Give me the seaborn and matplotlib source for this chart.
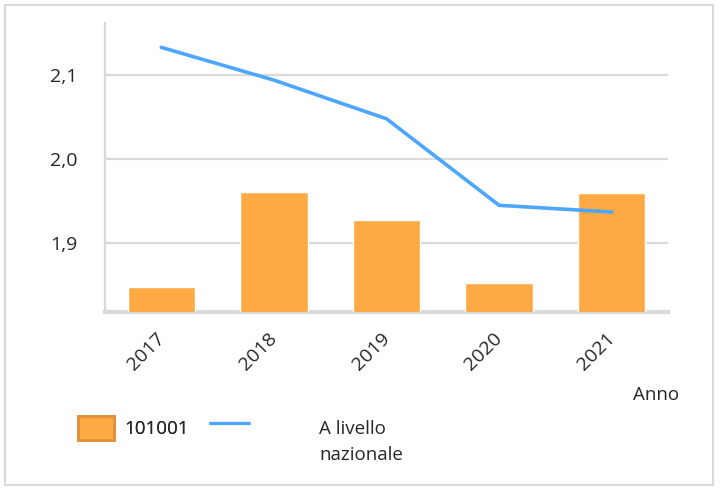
import matplotlib
matplotlib.use('Agg')
import matplotlib.pyplot as plt
import matplotlib.transforms as mtransforms
import seaborn as sns
import pandas as pd
from matplotlib.patches import Patch, Rectangle
from matplotlib.lines import Line2D

sns.set_style('white')
plt.rcParams['font.family'] = ['Open Sans', 'DejaVu Sans']

years = ['2017', '2018', '2019', '2020', '2021']
comune = [1.848, 1.961, 1.927, 1.852, 1.960]
nazionale = [2.133, 2.094, 2.048, 1.945, 1.937]
yticks = [1.9, 2.0, 2.1]
ytick_labels = ['1,9', '2,0', '2,1']

bar_color = '#FDAA45'
line_color = '#4DA6FF'
grid_color = '#D9D9D9'
text_color = '#262626'

df = pd.DataFrame({'anno': years, 'comune': comune, 'nazionale': nazionale})

fig = plt.figure(figsize=(7.23, 4.9), dpi=100)
ax = fig.add_axes([105/723, 1 - 312/490, (668-105)/723, (312-23)/490])

sns.barplot(data=df, x='anno', y='comune', color=bar_color, saturation=1,
            width=0.6, ax=ax, zorder=3)
sns.pointplot(data=df, x='anno', y='nazionale', color=line_color,
              markers='', linestyles='-', ax=ax, zorder=4)
for l in ax.lines:
    l.set_linewidth(2.6)

ax.set_ylim(1.818, 2.162)
ax.set_yticks(yticks)
ax.set_yticklabels(ytick_labels, fontsize=14, color=text_color)
ax.set_xlabel('')
ax.set_ylabel('')
ax.set_xlim(-0.5, 4.5)
ax.grid(axis='y', color=grid_color, lw=1.6, zorder=0)
ax.tick_params(axis='y', length=8, width=1.6, color=grid_color, pad=12)
ax.tick_params(axis='x', length=0, pad=12)
shift = mtransforms.ScaledTranslation(-6/100, -1/100, fig.dpi_scale_trans)
for t in ax.get_xticklabels():
    t.set_rotation(45)
    t.set_ha('right')
    t.set_rotation_mode('anchor')
    t.set_fontsize(14)
    t.set_color(text_color)
    t.set_transform(t.get_transform() + shift)

for s in ['top', 'right']:
    ax.spines[s].set_visible(False)
ax.spines['left'].set_color(grid_color)
ax.spines['left'].set_linewidth(1.6)
ax.spines['bottom'].set_color(grid_color)
ax.spines['bottom'].set_linewidth(3)

fig.text(656/723, 1 - 395/490, 'Anno', fontsize=13.5, ha='center', va='center',
         color=text_color)

leg1 = fig.legend(handles=[Patch(facecolor=bar_color, edgecolor='#E0923A', lw=2)],
                  labels=['101001'], loc='center left',
                  bbox_to_anchor=(78/723, 1 - 428/490), frameon=False,
                  borderpad=0, borderaxespad=0,
                  fontsize=13.5, handlelength=1.9, handleheight=1.55,
                  handletextpad=0.55, labelcolor=text_color)
fig.add_artist(leg1)
fig.legend(handles=[Line2D([], [], color=line_color, lw=2.4)],
           labels=[''], loc='center left',
           bbox_to_anchor=(210/723, 1 - 425/490), frameon=False,
           borderpad=0, borderaxespad=0,
           fontsize=13.5, handlelength=2.1, handletextpad=0)
fig.text(319/723, 1 - 420/490, 'A livello\nnazionale', fontsize=13.5,
         ha='left', va='top', linespacing=1.6, color=text_color)

fig.patches.append(Rectangle((5/723, 5/490), 708/723, 480/490,
                             transform=fig.transFigure, fill=False,
                             edgecolor=grid_color, lw=1.5))

fig.savefig('out.png', dpi=100)
